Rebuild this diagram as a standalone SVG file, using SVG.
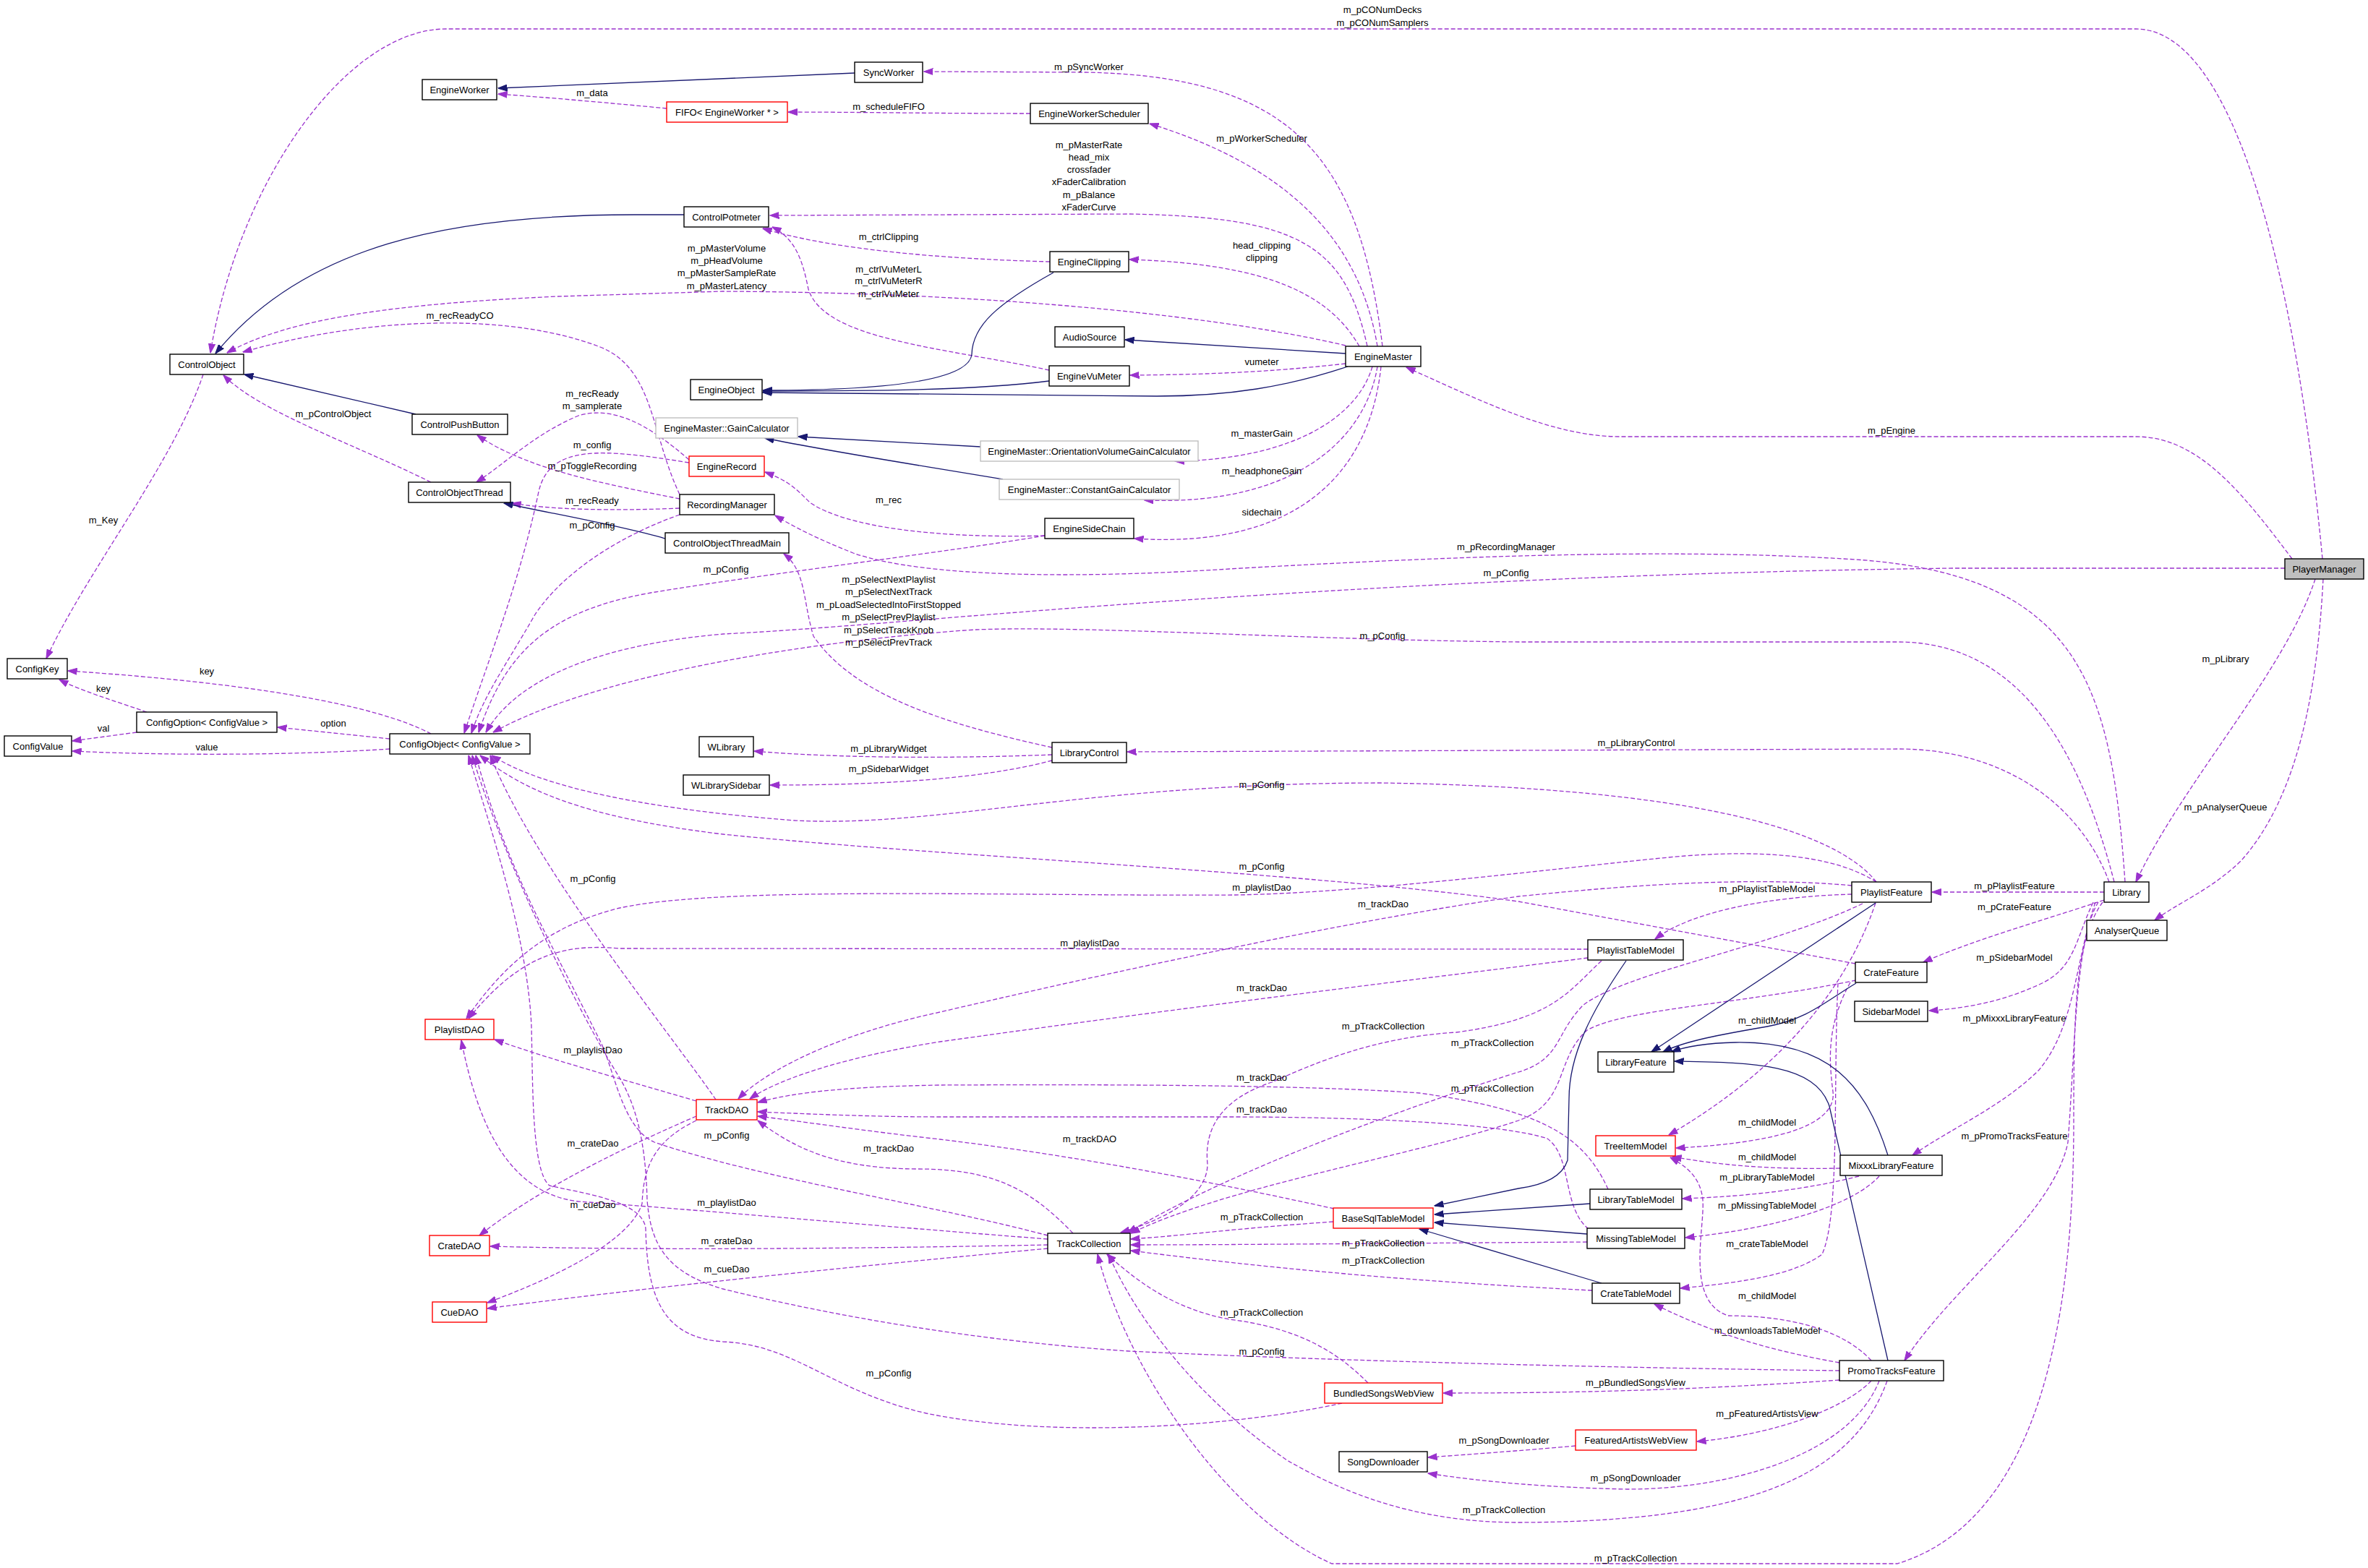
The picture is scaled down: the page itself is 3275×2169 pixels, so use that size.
<svg xmlns="http://www.w3.org/2000/svg" width="3275" height="2169" viewBox="0 0 3275 2169">
<style>
text{font-family:"Liberation Sans",Arial,sans-serif;font-size:13px;fill:#000;text-anchor:middle}
.n rect{fill:#fff;stroke:#000;stroke-width:1.4}
.r rect{stroke:#ff0000}
.g rect{stroke:#bfbfbf}
.pm rect{fill:#bfbfbf}
.u{fill:none;stroke:#9a32cd;stroke-width:1.3;stroke-dasharray:6,3;marker-end:url(#pa)}
.i{fill:none;stroke:#191970;stroke-width:1.3;marker-end:url(#ia)}
</style>
<defs>
<marker id="pa" markerUnits="userSpaceOnUse" markerWidth="13" markerHeight="10" viewBox="0 0 13 10" refX="12.5" refY="5" orient="auto"><path d="M0,0.5 L13,5 L0,9.5 z" fill="#9a32cd" stroke="#9a32cd" stroke-width="1"/></marker>
<marker id="ia" markerUnits="userSpaceOnUse" markerWidth="13" markerHeight="10" viewBox="0 0 13 10" refX="12.5" refY="5" orient="auto"><path d="M0,0.5 L13,5 L0,9.5 z" fill="#191970" stroke="#191970" stroke-width="1"/></marker>
</defs>
<rect width="3275" height="2169" fill="#fff"/>
<g id="edges">
<path class="u" d="M3212,773 C3175,380 3090,40 2954,40 L617,40 C480,40 330,250 291,488"/>
<path class="u" d="M922,150 C850,143 760,135 689,130"/>
<path class="i" d="M1182,101 L689,122"/>
<path class="u" d="M1425,157 C1300,157 1180,155 1090,155"/>
<path class="u" d="M1912,479 C1880,220 1790,105 1500,100 L1278,99"/>
<path class="u" d="M1905,479 C1880,330 1780,230 1590,171"/>
<path class="u" d="M1891,479 C1860,340 1800,300 1561,296 L1065,298"/>
<path class="u" d="M1452,362 C1300,358 1150,345 1055,316"/>
<path class="u" d="M1451,512 C1300,480 1140,470 1118,400 C1110,360 1100,330 1068,314"/>
<path class="u" d="M1861,478 C1700,440 1400,405 1000,403 L772,410 C550,420 400,440 314,488"/>
<path class="i" d="M946,297 L877,297 C620,297 420,340 298,489"/>
<path class="i" d="M575,573 L338,518"/>
<path class="u" d="M596,667 C480,610 360,570 309,519"/>
<path class="u" d="M940,684 C900,600 905,510 830,480 C700,430 500,440 336,487"/>
<path class="u" d="M953,636 C900,590 850,560 800,575 C740,600 700,640 659,667"/>
<path class="u" d="M953,640 C830,620 760,615 745,680 C720,800 680,900 642,1014"/>
<path class="u" d="M940,690 C840,670 730,650 660,602"/>
<path class="u" d="M940,703 C850,707 760,705 708,696"/>
<path class="u" d="M940,712 C860,740 780,790 740,850 C700,920 670,960 652,1014"/>
<path class="i" d="M920,745 C850,725 760,710 697,696"/>
<path class="u" d="M281,518 C240,640 120,790 64,911"/>
<path class="u" d="M1880,479 C1840,410 1760,365 1562,359"/>
<path class="i" d="M1457,377 C1380,420 1345,450 1344,490 C1340,530 1200,540 1055,540"/>
<path class="i" d="M1861,489 L1556,470"/>
<path class="u" d="M1861,503 C1780,512 1700,518 1563,519"/>
<path class="i" d="M1451,527 C1350,540 1200,541 1055,541"/>
<path class="i" d="M1864,507 C1780,535 1700,548 1600,548 L1055,543"/>
<path class="i" d="M1356,618 L1104,604"/>
<path class="i" d="M1387,663 C1250,640 1150,625 1058,606"/>
<path class="u" d="M1898,507 C1880,570 1800,635 1625,638"/>
<path class="u" d="M1905,507 C1890,600 1800,700 1583,692"/>
<path class="u" d="M1910,507 C1895,650 1800,760 1569,745"/>
<path class="u" d="M3170,773 C3100,680 3040,604 2954,604 L2242,604 C2150,604 2060,560 1945,508"/>
<path class="u" d="M1445,741 C1300,745 1170,730 1120,695 C1100,675 1090,665 1058,653"/>
<path class="u" d="M1445,741 C1300,765 1050,795 900,820 C760,845 700,900 662,1013"/>
<path class="u" d="M2939,1220 C2920,950 2880,790 2550,773 C2300,758 2000,770 1700,787 C1500,800 1280,800 1180,765 C1130,745 1100,730 1072,713"/>
<path class="u" d="M3160,786 L2700,786 C2400,790 2100,800 1700,826 C1400,845 1150,870 1000,877 C850,890 720,930 672,1013"/>
<path class="u" d="M2924,1220 C2880,1050 2800,888 2625,888 L2100,888 C1800,885 1500,865 1350,871 C1200,880 850,920 682,1013"/>
<path class="u" d="M1455,1034 C1300,1000 1180,960 1125,880 C1110,830 1115,790 1084,766"/>
<path class="u" d="M2917,1220 C2880,1120 2780,1036 2625,1036 L1559,1040"/>
<path class="u" d="M1455,1044 C1300,1050 1150,1048 1043,1039"/>
<path class="u" d="M1455,1052 C1350,1080 1200,1086 1065,1086"/>
<path class="u" d="M596,1015 C520,975 350,945 94,928"/>
<path class="u" d="M539,1022 L384,1006"/>
<path class="u" d="M539,1036 C420,1044 250,1046 100,1039"/>
<path class="u" d="M203,985 C160,970 110,955 82,940"/>
<path class="u" d="M189,1013 L100,1025"/>
<path class="u" d="M2595,1220 C2540,1150 2350,1090 1912,1083 C1500,1083 1300,1145 1100,1135 C900,1120 750,1090 680,1045"/>
<path class="u" d="M2566,1333 L2100,1247 C1800,1205 1300,1185 1000,1154 C800,1130 720,1090 664,1045"/>
<path class="u" d="M2595,1220 C2540,1185 2450,1175 2330,1184 C2200,1195 1900,1235 1708,1238 C1400,1240 1000,1225 857,1256 C760,1280 700,1330 645,1409"/>
<path class="u" d="M2561,1225 C2400,1210 2200,1230 2100,1240 C1900,1268 1600,1330 1300,1400 C1160,1430 1060,1480 1021,1520"/>
<path class="u" d="M2561,1237 C2450,1240 2340,1260 2289,1299"/>
<path class="u" d="M2196,1313 L857,1312 C780,1305 720,1320 648,1409"/>
<path class="u" d="M2196,1325 C2000,1350 1700,1385 1300,1441 C1180,1460 1080,1490 1037,1520"/>
<path class="u" d="M2215,1329 C2170,1370 2150,1410 2014,1428 C1900,1435 1820,1470 1759,1497 C1690,1520 1665,1560 1670,1610 C1670,1660 1600,1690 1550,1705"/>
<path class="u" d="M2576,1250 C2450,1310 2250,1345 2190,1390 C2150,1430 2160,1465 2100,1483 C1950,1530 1700,1620 1560,1705"/>
<path class="u" d="M2567,1356 C2400,1390 2250,1395 2195,1425 C2150,1465 2170,1525 2100,1550 C1950,1600 1700,1640 1564,1706"/>
<path class="u" d="M2224,1645 C2190,1570 2130,1535 1963,1512 C1800,1500 1500,1500 1300,1501 C1180,1503 1100,1510 1048,1525"/>
<path class="u" d="M2197,1700 C2160,1670 2175,1600 2140,1575 C2080,1555 1900,1545 1700,1545 L1300,1545 C1200,1545 1100,1540 1048,1538"/>
<path class="u" d="M1845,1672 C1700,1640 1500,1600 1300,1576 C1200,1565 1100,1550 1048,1544"/>
<path class="u" d="M1484,1706 C1430,1650 1380,1617 1270,1617 C1160,1617 1100,1590 1048,1550"/>
<path class="u" d="M990,1521 C920,1420 740,1200 678,1045"/>
<path class="u" d="M963,1523 C850,1490 760,1465 684,1438"/>
<path class="u" d="M963,1544 C880,1580 750,1640 663,1709"/>
<path class="u" d="M963,1550 C900,1580 890,1620 888,1665 C870,1720 760,1770 674,1802"/>
<path class="u" d="M1449,1709 C1300,1669 1050,1630 905,1580 C860,1560 850,1480 830,1440 C760,1300 700,1200 658,1045"/>
<path class="u" d="M1449,1714 C1200,1695 950,1672 800,1662 C700,1650 660,1550 638,1439"/>
<path class="u" d="M1449,1722 C1200,1727 900,1730 678,1724"/>
<path class="u" d="M1449,1727 C1200,1750 900,1780 674,1810"/>
<path class="u" d="M1844,1690 C1700,1700 1650,1708 1564,1714"/>
<path class="u" d="M2195,1718 C1900,1720 1700,1722 1564,1722"/>
<path class="u" d="M2202,1785 C2000,1775 1800,1760 1564,1730"/>
<path class="u" d="M1892,1913 C1840,1860 1780,1835 1700,1825 C1620,1810 1570,1770 1531,1735"/>
<path class="u" d="M2610,1910 C2560,2050 2400,2105 2100,2106 C1950,2106 1850,2060 1780,2020 C1650,1930 1570,1820 1533,1735"/>
<path class="u" d="M2908,1248 C2870,1300 2868,1400 2868,1550 C2868,1800 2830,2100 2624,2163 L1842,2163 C1700,2100 1560,1900 1518,1735"/>
<path class="u" d="M1856,1941 C1700,1975 1450,1990 1281,1955 C1150,1925 1100,1860 1000,1856 C920,1850 895,1800 893,1700 C890,1660 800,1650 760,1640 C735,1620 737,1500 735,1420 C730,1300 680,1150 648,1045"/>
<path class="u" d="M2544,1896 C2300,1893 1900,1885 1561,1869 C1350,1855 1150,1820 1000,1783 C920,1760 900,1720 895,1660 C893,1580 880,1530 857,1491 C800,1400 700,1200 653,1045"/>
<path class="u" d="M2544,1909 C2350,1922 2200,1927 1996,1927"/>
<path class="u" d="M2588,1910 C2550,1950 2450,1985 2347,1994"/>
<path class="u" d="M2599,1910 C2560,2010 2400,2060 2250,2060 C2150,2058 2050,2050 1975,2038"/>
<path class="u" d="M2179,2000 C2100,2007 2030,2012 1975,2016"/>
<path class="u" d="M2544,1885 C2460,1870 2380,1850 2288,1804"/>
<path class="u" d="M2588,1882 C2540,1830 2450,1820 2390,1820 C2330,1800 2358,1700 2355,1660 C2352,1630 2335,1615 2310,1601"/>
<path class="u" d="M2545,1616 C2450,1618 2380,1612 2313,1600"/>
<path class="u" d="M2571,1627 C2500,1645 2420,1655 2327,1658"/>
<path class="u" d="M2599,1627 C2560,1670 2450,1700 2331,1712"/>
<path class="u" d="M2542,1360 C2535,1500 2545,1680 2520,1735 C2480,1765 2400,1775 2324,1782"/>
<path class="u" d="M2594,1249 C2560,1350 2480,1470 2308,1570"/>
<path class="u" d="M2559,1359 C2525,1420 2530,1470 2535,1510 C2540,1550 2480,1580 2318,1588"/>
<path class="u" d="M2910,1234 L2672,1234"/>
<path class="u" d="M2910,1245 C2820,1275 2730,1300 2660,1331"/>
<path class="u" d="M2895,1248 C2870,1300 2870,1340 2820,1362 C2770,1385 2720,1395 2668,1398"/>
<path class="u" d="M2898,1248 C2870,1330 2870,1420 2820,1480 C2770,1530 2700,1560 2645,1598"/>
<path class="u" d="M2902,1248 C2870,1300 2870,1450 2860,1580 C2840,1680 2700,1780 2634,1882"/>
<path class="u" d="M3202,801 C3160,930 3020,1080 2954,1220"/>
<path class="u" d="M3213,801 C3205,950 3180,1100 3100,1190 C3060,1230 3010,1250 2980,1273"/>
<path class="i" d="M2594,1249 L2284,1455"/>
<path class="i" d="M2567,1360 C2525,1385 2500,1410 2444,1420 C2380,1431 2330,1440 2300,1455"/>
<path class="i" d="M2611,1598 C2580,1500 2530,1440 2400,1442 C2360,1443 2330,1448 2312,1455"/>
<path class="i" d="M2611,1882 C2570,1700 2545,1600 2530,1530 C2510,1470 2420,1470 2316,1468"/>
<path class="i" d="M2249,1329 C2200,1400 2170,1460 2170,1520 L2168,1605 C2160,1630 2130,1640 2100,1644 L1984,1668"/>
<path class="i" d="M2199,1665 L1984,1680"/>
<path class="i" d="M2195,1707 L1984,1691"/>
<path class="i" d="M2215,1775 L1963,1700"/>
</g>
<g id="edge-labels">
<text x="1912" y="17.5">m_pCONumDecks</text><text x="1912" y="35.5">m_pCONumSamplers</text>
<text x="819" y="132.5">m_data</text>
<text x="1229" y="151.5">m_scheduleFIFO</text>
<text x="1506" y="96.5">m_pSyncWorker</text>
<text x="1745" y="195.5">m_pWorkerScheduler</text>
<text x="1506" y="204.5">m_pMasterRate</text><text x="1506" y="221.5">head_mix</text><text x="1506" y="238.5">crossfader</text><text x="1506" y="255.5">xFaderCalibration</text><text x="1506" y="273.5">m_pBalance</text><text x="1506" y="290.5">xFaderCurve</text>
<text x="1229" y="331.5">m_ctrlClipping</text>
<text x="1229" y="376.5">m_ctrlVuMeterL</text><text x="1229" y="392.5">m_ctrlVuMeterR</text><text x="1229" y="410.5">m_ctrlVuMeter</text>
<text x="1005" y="347.5">m_pMasterVolume</text><text x="1005" y="364.5">m_pHeadVolume</text><text x="1005" y="381.5">m_pMasterSampleRate</text><text x="1005" y="399.5">m_pMasterLatency</text>
<text x="461" y="576.5">m_pControlObject</text>
<text x="636" y="440.5">m_recReadyCO</text>
<text x="819" y="548.5">m_recReady</text><text x="819" y="565.5">m_samplerate</text>
<text x="819" y="619.5">m_config</text>
<text x="819" y="648.5">m_pToggleRecording</text>
<text x="819" y="696.5">m_recReady</text>
<text x="819" y="730.5">m_pConfig</text>
<text x="143" y="723.5">m_Key</text>
<text x="1745" y="343.5">head_clipping</text><text x="1745" y="360.5">clipping</text>
<text x="1745" y="504.5">vumeter</text>
<text x="1745" y="603.5">m_masterGain</text>
<text x="1745" y="655.5">m_headphoneGain</text>
<text x="1745" y="712.5">sidechain</text>
<text x="2616" y="599.5">m_pEngine</text>
<text x="1229" y="695.5">m_rec</text>
<text x="1004" y="791.5">m_pConfig</text>
<text x="2083" y="760.5">m_pRecordingManager</text>
<text x="2083" y="796.5">m_pConfig</text>
<text x="1912" y="883.5">m_pConfig</text>
<text x="1229" y="805.5">m_pSelectNextPlaylist</text><text x="1229" y="822.5">m_pSelectNextTrack</text><text x="1229" y="840.5">m_pLoadSelectedIntoFirstStopped</text><text x="1229" y="857.5">m_pSelectPrevPlaylist</text><text x="1229" y="875.5">m_pSelectTrackKnob</text><text x="1229" y="892.5">m_pSelectPrevTrack</text>
<text x="2263" y="1031.5">m_pLibraryControl</text>
<text x="1229" y="1039.5">m_pLibraryWidget</text>
<text x="1229" y="1067.5">m_pSidebarWidget</text>
<text x="286" y="932.5">key</text>
<text x="461" y="1004.5">option</text>
<text x="286" y="1037.5">value</text>
<text x="143" y="956.5">key</text>
<text x="143" y="1011.5">val</text>
<text x="3078" y="915.5">m_pLibrary</text>
<text x="3078" y="1120.5">m_pAnalyserQueue</text>
<text x="1745" y="1089.5">m_pConfig</text>
<text x="1745" y="1202.5">m_pConfig</text>
<text x="1745" y="1231.5">m_playlistDao</text>
<text x="1913" y="1254.5">m_trackDao</text>
<text x="2444" y="1233.5">m_pPlaylistTableModel</text>
<text x="1507" y="1308.5">m_playlistDao</text>
<text x="1745" y="1370.5">m_trackDao</text>
<text x="1913" y="1423.5">m_pTrackCollection</text>
<text x="2064" y="1446.5">m_pTrackCollection</text>
<text x="2064" y="1509.5">m_pTrackCollection</text>
<text x="1745" y="1494.5">m_trackDao</text>
<text x="1745" y="1538.5">m_trackDao</text>
<text x="1507" y="1579.5">m_trackDAO</text>
<text x="1229" y="1592.5">m_trackDao</text>
<text x="820" y="1219.5">m_pConfig</text>
<text x="820" y="1456.5">m_playlistDao</text>
<text x="820" y="1585.5">m_crateDao</text>
<text x="820" y="1670.5">m_cueDao</text>
<text x="1005" y="1574.5">m_pConfig</text>
<text x="1005" y="1667.5">m_playlistDao</text>
<text x="1005" y="1720.5">m_crateDao</text>
<text x="1005" y="1759.5">m_cueDao</text>
<text x="1745" y="1687.5">m_pTrackCollection</text>
<text x="1913" y="1723.5">m_pTrackCollection</text>
<text x="1913" y="1747.5">m_pTrackCollection</text>
<text x="1745" y="1819.5">m_pTrackCollection</text>
<text x="1745" y="1873.5">m_pConfig</text>
<text x="1229" y="1903.5">m_pConfig</text>
<text x="2080" y="2092.5">m_pTrackCollection</text>
<text x="2262" y="2159.5">m_pTrackCollection</text>
<text x="2262" y="1916.5">m_pBundledSongsView</text>
<text x="2444" y="1959.5">m_pFeaturedArtistsView</text>
<text x="2262" y="2048.5">m_pSongDownloader</text>
<text x="2080" y="1996.5">m_pSongDownloader</text>
<text x="2444" y="1844.5">m_downloadsTableModel</text>
<text x="2444" y="1796.5">m_childModel</text>
<text x="2444" y="1604.5">m_childModel</text>
<text x="2444" y="1632.5">m_pLibraryTableModel</text>
<text x="2444" y="1671.5">m_pMissingTableModel</text>
<text x="2444" y="1724.5">m_crateTableModel</text>
<text x="2444" y="1415.5">m_childModel</text>
<text x="2444" y="1556.5">m_childModel</text>
<text x="2786" y="1229.5">m_pPlaylistFeature</text>
<text x="2786" y="1258.5">m_pCrateFeature</text>
<text x="2786" y="1328.5">m_pSidebarModel</text>
<text x="2786" y="1412.5">m_pMixxxLibraryFeature</text>
<text x="2786" y="1575.5">m_pPromoTracksFeature</text>
</g>
<g id="n-EngineWorker" class="n"><rect x="584" y="110" width="103" height="28"/><text x="635.5" y="128.5">EngineWorker</text></g>
<g id="n-FIFO" class="n r"><rect x="922" y="141" width="167" height="28"/><text x="1005.5" y="159.5">FIFO&lt; EngineWorker * &gt;</text></g>
<g id="n-SyncWorker" class="n"><rect x="1182" y="86" width="94" height="28"/><text x="1229" y="104.5">SyncWorker</text></g>
<g id="n-EngineWorkerScheduler" class="n"><rect x="1425" y="143" width="163" height="28"/><text x="1506.5" y="161.5">EngineWorkerScheduler</text></g>
<g id="n-ControlPotmeter" class="n"><rect x="946" y="286" width="117" height="28"/><text x="1004.5" y="304.5">ControlPotmeter</text></g>
<g id="n-EngineClipping" class="n"><rect x="1452" y="348" width="109" height="28"/><text x="1506.5" y="366.5">EngineClipping</text></g>
<g id="n-AudioSource" class="n"><rect x="1459" y="452" width="96" height="28"/><text x="1507" y="470.5">AudioSource</text></g>
<g id="n-EngineMaster" class="n"><rect x="1861" y="479" width="104" height="28"/><text x="1913" y="497.5">EngineMaster</text></g>
<g id="n-EngineVuMeter" class="n"><rect x="1451" y="506" width="111" height="28"/><text x="1506.5" y="524.5">EngineVuMeter</text></g>
<g id="n-ControlObject" class="n"><rect x="235" y="490" width="102" height="28"/><text x="286" y="508.5">ControlObject</text></g>
<g id="n-EngineObject" class="n"><rect x="955" y="525" width="99" height="28"/><text x="1004.5" y="543.5">EngineObject</text></g>
<g id="n-ControlPushButton" class="n"><rect x="570" y="573" width="132" height="28"/><text x="636" y="591.5">ControlPushButton</text></g>
<g id="n-GainCalculator" class="n g"><rect x="907" y="578" width="196" height="28"/><text x="1005" y="596.5">EngineMaster::GainCalculator</text></g>
<g id="n-OrientationVolumeGainCalculator" class="n g"><rect x="1356" y="610" width="301" height="28"/><text x="1506.5" y="628.5">EngineMaster::OrientationVolumeGainCalculator</text></g>
<g id="n-EngineRecord" class="n r"><rect x="953" y="631" width="104" height="28"/><text x="1005" y="649.5">EngineRecord</text></g>
<g id="n-ConstantGainCalculator" class="n g"><rect x="1382" y="663" width="249" height="28"/><text x="1506.5" y="681.5">EngineMaster::ConstantGainCalculator</text></g>
<g id="n-ControlObjectThread" class="n"><rect x="565" y="667" width="141" height="28"/><text x="635.5" y="685.5">ControlObjectThread</text></g>
<g id="n-RecordingManager" class="n"><rect x="940" y="684" width="131" height="28"/><text x="1005.5" y="702.5">RecordingManager</text></g>
<g id="n-EngineSideChain" class="n"><rect x="1445" y="717" width="123" height="28"/><text x="1506.5" y="735.5">EngineSideChain</text></g>
<g id="n-ControlObjectThreadMain" class="n"><rect x="920" y="737" width="171" height="28"/><text x="1005.5" y="755.5">ControlObjectThreadMain</text></g>
<g id="n-PlayerManager" class="n pm"><rect x="3160" y="773" width="109" height="28"/><text x="3214.5" y="791.5">PlayerManager</text></g>
<g id="n-ConfigKey" class="n"><rect x="10" y="911" width="83" height="28"/><text x="51.5" y="929.5">ConfigKey</text></g>
<g id="n-ConfigOption" class="n"><rect x="189" y="985" width="194" height="28"/><text x="286" y="1003.5">ConfigOption&lt; ConfigValue &gt;</text></g>
<g id="n-ConfigObject" class="n"><rect x="539" y="1015" width="194" height="28"/><text x="636" y="1033.5">ConfigObject&lt; ConfigValue &gt;</text></g>
<g id="n-ConfigValue" class="n"><rect x="6" y="1018" width="93" height="28"/><text x="52.5" y="1036.5">ConfigValue</text></g>
<g id="n-WLibrary" class="n"><rect x="967" y="1019" width="75" height="28"/><text x="1004.5" y="1037.5">WLibrary</text></g>
<g id="n-LibraryControl" class="n"><rect x="1455" y="1027" width="103" height="28"/><text x="1506.5" y="1045.5">LibraryControl</text></g>
<g id="n-WLibrarySidebar" class="n"><rect x="945" y="1072" width="119" height="28"/><text x="1004.5" y="1090.5">WLibrarySidebar</text></g>
<g id="n-PlaylistFeature" class="n"><rect x="2561" y="1220" width="110" height="28"/><text x="2616" y="1238.5">PlaylistFeature</text></g>
<g id="n-Library" class="n"><rect x="2910" y="1220" width="62" height="28"/><text x="2941" y="1238.5">Library</text></g>
<g id="n-AnalyserQueue" class="n"><rect x="2886" y="1273" width="111" height="28"/><text x="2941.5" y="1291.5">AnalyserQueue</text></g>
<g id="n-PlaylistTableModel" class="n"><rect x="2196" y="1300" width="132" height="28"/><text x="2262" y="1318.5">PlaylistTableModel</text></g>
<g id="n-CrateFeature" class="n"><rect x="2566" y="1331" width="99" height="28"/><text x="2615.5" y="1349.5">CrateFeature</text></g>
<g id="n-SidebarModel" class="n"><rect x="2565" y="1385" width="101" height="28"/><text x="2615.5" y="1403.5">SidebarModel</text></g>
<g id="n-PlaylistDAO" class="n r"><rect x="588" y="1410" width="95" height="28"/><text x="635.5" y="1428.5">PlaylistDAO</text></g>
<g id="n-LibraryFeature" class="n"><rect x="2210" y="1455" width="105" height="28"/><text x="2262.5" y="1473.5">LibraryFeature</text></g>
<g id="n-TrackDAO" class="n r"><rect x="963" y="1521" width="84" height="28"/><text x="1005" y="1539.5">TrackDAO</text></g>
<g id="n-TreeItemModel" class="n r"><rect x="2207" y="1571" width="110" height="28"/><text x="2262" y="1589.5">TreeItemModel</text></g>
<g id="n-MixxxLibraryFeature" class="n"><rect x="2545" y="1598" width="141" height="28"/><text x="2615.5" y="1616.5">MixxxLibraryFeature</text></g>
<g id="n-LibraryTableModel" class="n"><rect x="2199" y="1645" width="127" height="28"/><text x="2262.5" y="1663.5">LibraryTableModel</text></g>
<g id="n-BaseSqlTableModel" class="n r"><rect x="1844" y="1671" width="138" height="28"/><text x="1913" y="1689.5">BaseSqlTableModel</text></g>
<g id="n-MissingTableModel" class="n"><rect x="2195" y="1699" width="135" height="28"/><text x="2262.5" y="1717.5">MissingTableModel</text></g>
<g id="n-TrackCollection" class="n"><rect x="1449" y="1706" width="114" height="28"/><text x="1506" y="1724.5">TrackCollection</text></g>
<g id="n-CrateDAO" class="n r"><rect x="594" y="1709" width="83" height="28"/><text x="635.5" y="1727.5">CrateDAO</text></g>
<g id="n-CrateTableModel" class="n"><rect x="2202" y="1775" width="121" height="28"/><text x="2262.5" y="1793.5">CrateTableModel</text></g>
<g id="n-CueDAO" class="n r"><rect x="598" y="1801" width="75" height="28"/><text x="635.5" y="1819.5">CueDAO</text></g>
<g id="n-PromoTracksFeature" class="n"><rect x="2544" y="1882" width="144" height="28"/><text x="2616" y="1900.5">PromoTracksFeature</text></g>
<g id="n-BundledSongsWebView" class="n r"><rect x="1832" y="1913" width="163" height="28"/><text x="1913.5" y="1931.5">BundledSongsWebView</text></g>
<g id="n-FeaturedArtistsWebView" class="n r"><rect x="2179" y="1978" width="167" height="28"/><text x="2262.5" y="1996.5">FeaturedArtistsWebView</text></g>
<g id="n-SongDownloader" class="n"><rect x="1852" y="2008" width="122" height="28"/><text x="1913" y="2026.5">SongDownloader</text></g>
</svg>
